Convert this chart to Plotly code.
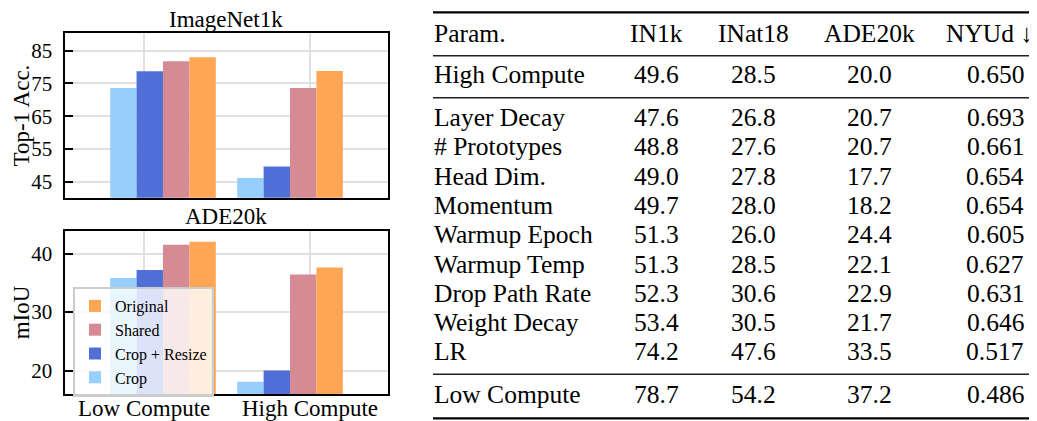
import plotly.graph_objects as go

# The page body has an 8px margin, so the figure is drawn 8px in from the
# window's top-left corner; size it to fill the rest of the 1037x421 window.
OFF = 8
W, H = 1037 - OFF, 421 - OFF

# ---------------- data ----------------
groups = ["Low Compute", "High Compute"]
series = ["Crop", "Crop + Resize", "Shared", "Original"]
in1k_crop = [73.6, 46.1]
in1k_crop_resize = [78.7, 49.6]
in1k_shared = [81.8, 73.6]
in1k_original = [83.0, 78.8]
ade_crop = [35.8, 18.1]
ade_crop_resize = [37.2, 20.0]
ade_shared = [41.5, 36.4]
ade_original = [42.0, 37.6]

in1k_ticks = [45, 55, 65, 75, 85]
ade_ticks = [20, 30, 40]

tbl_header = ["Param.", "IN1k", "INat18", "ADE20k", "NYUd \u2193"]
tbl_params = ["High Compute", "Layer Decay", "# Prototypes", "Head Dim.", "Momentum",
              "Warmup Epoch", "Warmup Temp", "Drop Path Rate", "Weight Decay", "LR",
              "Low Compute"]
tbl_in1k = [49.6, 47.6, 48.8, 49.0, 49.7, 51.3, 51.3, 52.3, 53.4, 74.2, 78.7]
tbl_inat18 = [28.5, 26.8, 27.6, 27.8, 28.0, 26.0, 28.5, 30.6, 30.5, 47.6, 54.2]
tbl_ade20k = [20.0, 20.7, 20.7, 17.7, 18.2, 24.4, 22.1, 22.9, 21.7, 33.5, 37.2]
tbl_nyud = [0.650, 0.693, 0.661, 0.654, 0.654, 0.605, 0.627, 0.631, 0.646, 0.517, 0.486]

# ---------------- styles / layout ----------------
colors = ["#96CFFB", "#5070D8", "#D68A94", "#FFA654"]
FONT = "Liberation Serif, Times New Roman, serif"
group_pos = [0.117, 0.88]   # bar-group centres on the numeric x axis
tick_pos = [0, 1]
bar_w = 0.1586


def px(x):
    return (x - OFF) / W


def py(y):
    return 1 - (y - OFF) / H


fig = go.Figure()

in1k_vals = [in1k_crop, in1k_crop_resize, in1k_shared, in1k_original]
ade_vals = [ade_crop, ade_crop_resize, ade_shared, ade_original]
for i, name in enumerate(series):
    off = -2 * bar_w + i * bar_w
    fig.add_trace(go.Bar(x=group_pos, y=in1k_vals[i], name=name, width=bar_w, offset=off,
                         marker=dict(color=colors[i], line=dict(width=0)),
                         xaxis="x", yaxis="y", showlegend=False))
    fig.add_trace(go.Bar(x=group_pos, y=ade_vals[i], name=name, width=bar_w, offset=off,
                         marker=dict(color=colors[i], line=dict(width=0)),
                         xaxis="x2", yaxis="y2", showlegend=True))

xdom = [px(64.5), px(387.5)]
xrange_ = [-0.4745, 1.4655]
common_x = dict(domain=xdom, range=xrange_, tickvals=tick_pos, showgrid=True,
                gridcolor="#e0e0e0", gridwidth=2, zeroline=False, showline=True,
                linecolor="black", linewidth=2, mirror=True, ticks="",
                showticklabels=False, automargin=False)
common_y = dict(showgrid=True, gridcolor="#e0e0e0", gridwidth=2, zeroline=False,
                showline=True, linecolor="black", linewidth=2, mirror=True,
                ticks="inside", ticklen=8, tickwidth=2, tickcolor="black",
                tickfont=dict(family=FONT, size=21, color="black"),
                ticklabelstandoff=6, automargin=False)

fig.update_layout(
    width=W, height=H,
    margin=dict(l=0, r=0, t=0, b=0),
    paper_bgcolor="white", plot_bgcolor="white",
    barmode="overlay",
    font=dict(family=FONT, color="black"),
    xaxis=dict(**common_x, anchor="y"),
    yaxis=dict(**common_y, domain=[py(197.7), py(33.3)], range=[40.1, 90.3],
               tickvals=in1k_ticks, anchor="x"),
    xaxis2=dict(**common_x, anchor="y2"),
    yaxis2=dict(**common_y, domain=[py(394), py(230.7)], range=[16, 43.9],
                tickvals=ade_ticks, anchor="x2"),
    legend=dict(x=px(73), y=py(287), xanchor="left", yanchor="top",
                traceorder="reversed", bgcolor="rgba(255,255,255,0.8)",
                bordercolor="#cccccc", borderwidth=2,
                font=dict(family=FONT, size=16, color="black"), itemwidth=30),
)

ann = []
# x tick labels of the lower panel
for k, g in enumerate(groups):
    ann.append(dict(text=g, x=tick_pos[k], xref="x2", y=py(408.5), yref="paper",
                    showarrow=False, font=dict(family=FONT, size=23),
                    xanchor="center", yanchor="middle"))
# subplot titles and axis titles
ann.append(dict(text="ImageNet1k", x=px(226), y=py(19.5), xref="paper", yref="paper",
                showarrow=False, font=dict(family=FONT, size=23), xanchor="center", yanchor="middle"))
ann.append(dict(text="ADE20k", x=px(226), y=py(217), xref="paper", yref="paper",
                showarrow=False, font=dict(family=FONT, size=23), xanchor="center", yanchor="middle"))
ann.append(dict(text="Top-1 Acc.", x=px(21), y=py(115.5), xref="paper", yref="paper",
                showarrow=False, textangle=-90, font=dict(family=FONT, size=23),
                xanchor="center", yanchor="middle"))
ann.append(dict(text="mIoU", x=px(21), y=py(312.3), xref="paper", yref="paper",
                showarrow=False, textangle=-90, font=dict(family=FONT, size=23),
                xanchor="center", yanchor="middle"))

# table
TF = dict(family=FONT, size=25.5, color="black")
col_hdr_x = [432, 656, 753, 869, 1035]
col_hdr_anchor = ["left", "center", "center", "center", "right"]
col_val_x = [432, 656, 753, 869, 995]
header_y = 33.5
row_y = [74] + [117.5 + 29.3 * k for k in range(9)] + [394.5]

for j, h in enumerate(tbl_header):
    ann.append(dict(text=h, x=px(col_hdr_x[j]), y=py(header_y), xref="paper", yref="paper",
                    showarrow=False, font=TF, xanchor=col_hdr_anchor[j],
                    yanchor="middle"))
for r, name in enumerate(tbl_params):
    vals = [name, f"{tbl_in1k[r]:.1f}", f"{tbl_inat18[r]:.1f}", f"{tbl_ade20k[r]:.1f}",
            f"{tbl_nyud[r]:.3f}"]
    for j, v in enumerate(vals):
        ann.append(dict(text=v, x=px(col_val_x[j]), y=py(row_y[r]), xref="paper", yref="paper",
                        showarrow=False, font=TF, xanchor="left" if j == 0 else "center",
                        yanchor="middle"))
fig.update_layout(annotations=ann)

rules = [(12.3, 2.2, "black"), (55.7, 1.4, "#222222"), (97.7, 1.4, "#222222"),
         (374.3, 1.4, "#222222"), (418.3, 2.2, "black")]
shapes = []
for y, w, c in rules:
    shapes.append(dict(type="line", xref="paper", yref="paper", x0=px(433), x1=1.0,
                       y0=py(y), y1=py(y), line=dict(color=c, width=w)))
fig.update_layout(shapes=shapes)

fig.write_html("out.html")
